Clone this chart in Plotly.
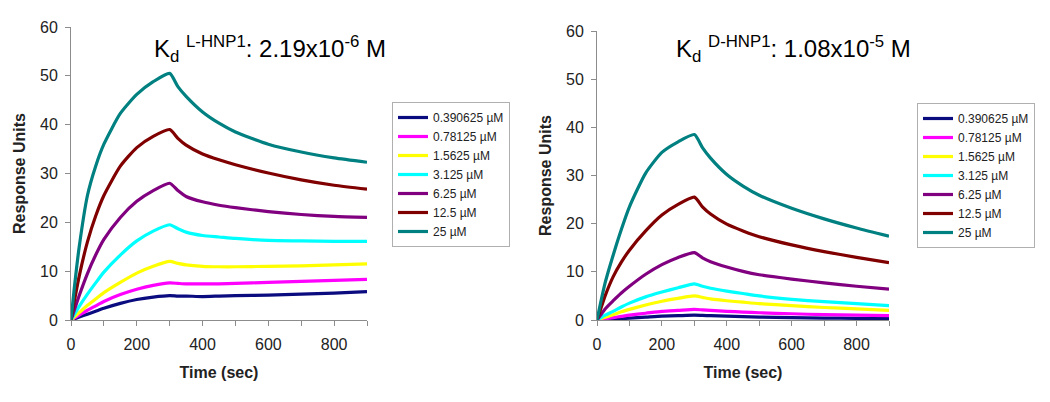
import plotly.graph_objects as go

# Time points (sec)
time_sec = [0, 10, 25, 50, 75, 100, 150, 200, 250, 300, 325, 350, 400, 450, 500, 600, 700, 800, 900]

concentrations = ["0.390625 µM", "0.78125 µM", "1.5625 µM", "3.125 µM", "6.25 µM", "12.5 µM", "25 µM"]
colors = ["#0b0b80", "#ff00ff", "#ffff00", "#00ffff", "#800080", "#800000", "#008080"]

# L-HNP1 panel (left)
l_039 = [0, 0.25, 0.6, 1.2, 1.8, 2.4, 3.4, 4.2, 4.7, 5.0, 4.9, 4.9, 4.8, 4.9, 5.0, 5.1, 5.3, 5.5, 5.8]
l_078 = [0, 0.4, 1.0, 2.0, 2.9, 3.8, 5.2, 6.3, 7.1, 7.6, 7.5, 7.4, 7.4, 7.4, 7.5, 7.7, 7.9, 8.1, 8.3]
l_156 = [0, 0.6, 1.5, 3.0, 4.3, 5.6, 7.7, 9.6, 11.0, 12.0, 11.6, 11.3, 11.0, 10.9, 10.9, 11.0, 11.1, 11.3, 11.5]
l_3125 = [0, 1.1, 2.8, 5.3, 7.6, 9.8, 13.3, 16.2, 18.2, 19.5, 18.7, 18.0, 17.3, 17.0, 16.7, 16.3, 16.2, 16.1, 16.1]
l_625 = [0, 2.0, 5.0, 9.5, 13.3, 16.5, 21.0, 24.3, 26.5, 28.0, 26.5, 25.3, 24.2, 23.5, 23.0, 22.2, 21.6, 21.2, 21.0]
l_125 = [0, 3.8, 9.0, 16.0, 21.3, 25.5, 31.5, 35.3, 37.6, 39.0, 37.2, 35.8, 34.0, 32.8, 31.8, 30.1, 28.7, 27.6, 26.8]
l_25 = [0, 6.5, 15.0, 25.5, 31.5, 36.0, 42.3, 46.2, 48.8, 50.5, 47.8, 45.8, 42.6, 40.3, 38.5, 36.0, 34.4, 33.2, 32.3]

# D-HNP1 panel (right)
d_039 = [0, 0.04, 0.1, 0.2, 0.3, 0.4, 0.6, 0.8, 0.9, 1.0, 0.95, 0.9, 0.8, 0.7, 0.6, 0.5, 0.4, 0.35, 0.3]
d_078 = [0, 0.1, 0.25, 0.5, 0.75, 1.0, 1.4, 1.8, 2.0, 2.2, 2.1, 2.0, 1.8, 1.65, 1.5, 1.3, 1.1, 1.0, 0.9]
d_156 = [0, 0.25, 0.6, 1.1, 1.7, 2.2, 3.1, 3.9, 4.5, 5.0, 4.7, 4.4, 4.0, 3.7, 3.4, 3.0, 2.6, 2.3, 2.0]
d_3125 = [0, 0.4, 1.0, 1.8, 2.7, 3.5, 4.8, 5.8, 6.7, 7.5, 7.0, 6.6, 6.0, 5.5, 5.0, 4.3, 3.8, 3.4, 3.0]
d_625 = [0, 0.9, 2.3, 4.0, 5.6, 7.0, 9.5, 11.5, 13.0, 14.0, 12.9, 12.1, 11.0, 10.1, 9.4, 8.5, 7.7, 7.0, 6.4]
d_125 = [0, 2.0, 5.0, 9.0, 12.0, 14.5, 18.5, 21.8, 24.0, 25.5, 23.5, 22.0, 19.9, 18.5, 17.3, 15.6, 14.2, 13.0, 11.9]
d_25 = [0, 3.2, 7.7, 13.5, 18.8, 23.5, 30.5, 34.8, 37.0, 38.5, 35.8, 33.6, 30.2, 27.8, 25.9, 23.2, 21.0, 19.1, 17.4]

left_series = [l_039, l_078, l_156, l_3125, l_625, l_125, l_25]
right_series = [d_039, d_078, d_156, d_3125, d_625, d_125, d_25]

FONT = "Liberation Sans, Arial, sans-serif"

# page body has an 8px default margin; figure sized so the page is 1050x402
OFF = 8
W, H = 1050 - 2 * OFF, 402 - 2 * OFF


def px_x(p):
    return (p - OFF) / W


def px_y(p):
    return 1 - (p - OFF) / H


fig = go.Figure()
for name, col, ys in zip(concentrations, colors, left_series):
    fig.add_trace(go.Scatter(x=time_sec, y=ys, mode="lines", name=name,
                             line=dict(color=col, width=3.2, shape="spline", smoothing=0.6),
                             xaxis="x", yaxis="y", legend="legend"))
for name, col, ys in zip(concentrations, colors, right_series):
    fig.add_trace(go.Scatter(x=time_sec, y=ys, mode="lines", name=name,
                             line=dict(color=col, width=3.2, shape="spline", smoothing=0.6),
                             xaxis="x2", yaxis="y2", legend="legend2"))

axis_common = dict(showgrid=False, zeroline=False, showline=True, linecolor="#8c8c8c",
                   linewidth=1, ticks="outside", tickcolor="#8c8c8c", ticklen=5,
                   automargin=False,
                   tickfont=dict(family=FONT, size=16, color="#222"))

xa = dict(axis_common, range=[0, 900], tickvals=[0, 200, 400, 600, 800],
          ticklabelstandoff=5,
          minor=dict(dtick=100, tick0=0, ticks="outside", ticklen=5, tickcolor="#8c8c8c"),
          title=dict(text="<b>Time (sec)</b>", font=dict(family=FONT, size=16, color="#222"), standoff=14))
ya = dict(axis_common, range=[0, 60], dtick=10, ticklabelstandoff=4,
          title=dict(text="<b>Response Units</b>", font=dict(family=FONT, size=16, color="#222"), standoff=10))

legend_common = dict(font=dict(family=FONT, size=12, color="#222"), bgcolor="white",
                     bordercolor="#b0b0b0", borderwidth=1, tracegroupgap=0,
                     itemwidth=30, xanchor="left", yanchor="top")

fig.update_layout(
    width=W, height=H,
    margin=dict(l=0, r=0, t=0, b=0),
    paper_bgcolor="white", plot_bgcolor="white",
    showlegend=True,
    xaxis=dict(xa, domain=[px_x(71), px_x(367)], anchor="y"),
    yaxis=dict(ya, domain=[px_y(320), px_y(27)], anchor="x"),
    xaxis2=dict(xa, domain=[px_x(597), px_x(889)], anchor="y2"),
    yaxis2=dict(ya, domain=[px_y(320), px_y(31)], anchor="x2"),
    legend=dict(legend_common, x=px_x(392), y=px_y(102)),
    legend2=dict(legend_common, x=px_x(917), y=px_y(103)),
    annotations=[
        dict(text="K<sub>d</sub> <sup>L-HNP1</sup>: 2.19x10<sup>-6</sup> M", xref="paper", yref="paper",
             x=px_x(270), y=px_y(49), showarrow=False, xanchor="center", yanchor="middle",
             font=dict(family=FONT, size=24, color="black")),
        dict(text="K<sub>d</sub> <sup>D-HNP1</sup>: 1.08x10<sup>-5</sup> M", xref="paper", yref="paper",
             x=px_x(793), y=px_y(49), showarrow=False, xanchor="center", yanchor="middle",
             font=dict(family=FONT, size=24, color="black")),
    ],
)

fig.write_html("out.html")
